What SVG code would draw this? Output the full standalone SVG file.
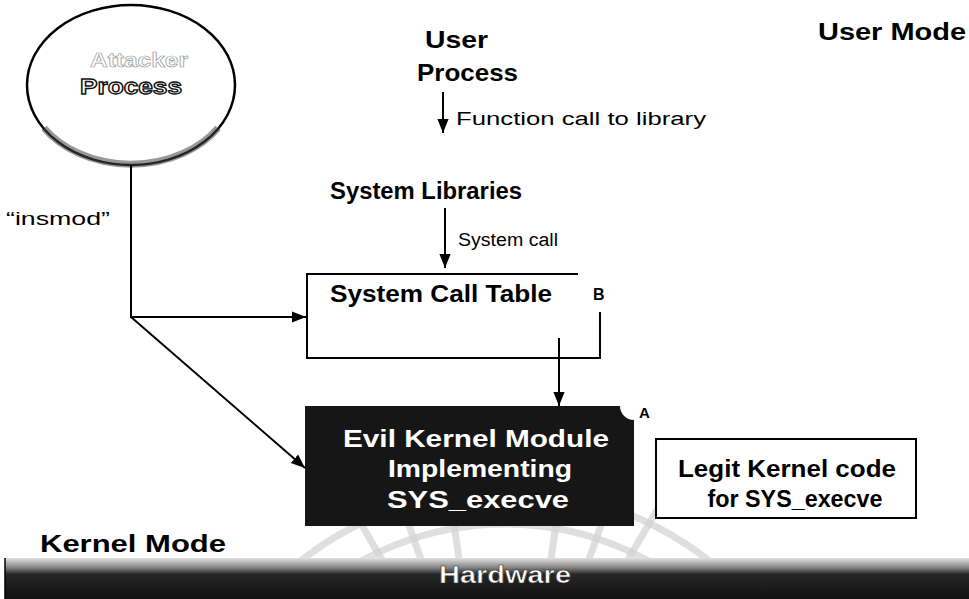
<svg xmlns="http://www.w3.org/2000/svg" width="969" height="599" viewBox="0 0 969 599">
<style>
.b{font-family:"Liberation Sans",Arial,sans-serif;font-weight:bold;fill:#000}
.r{font-family:"Liberation Sans",Arial,sans-serif;fill:#000}
.w{font-family:"Liberation Sans",Arial,sans-serif;font-weight:bold;fill:#fff}
.ln{stroke:#000;stroke-width:2;fill:none}
.wm{stroke:#d2d2d2;stroke-width:7;fill:none;opacity:0.7}
</style>
<defs>
<marker id="ah2" viewBox="0 0 10 10" refX="10" refY="5" markerWidth="14" markerHeight="14" orient="auto" markerUnits="userSpaceOnUse">
<path d="M0,1 L10,5 L0,9 z" fill="#000"/>
</marker>
<linearGradient id="hw" x1="0" y1="0" x2="0" y2="1">
<stop offset="0" stop-color="#e0e0e0"/>
<stop offset="0.22" stop-color="#8a8a8a"/>
<stop offset="0.40" stop-color="#262626"/>
<stop offset="1" stop-color="#111"/>
</linearGradient>
</defs>
<rect width="969" height="599" fill="#fff"/>

<g id="watermark">
<circle cx="505" cy="820" r="330" class="wm"/>
<circle cx="505" cy="820" r="296" class="wm"/>
<path d="M405,599 L350,505 M435,599 L400,500 M465,599 L450,498 M545,599 L560,498 M575,599 L610,500 M605,599 L660,505" class="wm" stroke-width="4"/>
</g>

<g id="attacker-process">
<ellipse cx="131" cy="85" rx="104" ry="80" fill="#fff" stroke="#000" stroke-width="2.5"/>
<path d="M218,128 A104,80 0 0,1 44,128" fill="none" stroke="#444" stroke-width="7" opacity="0.55"/>
<text class="b" x="90" y="67" font-size="21" textLength="98" lengthAdjust="spacingAndGlyphs" style="fill:#fff;stroke:#999;stroke-width:0.7">Attacker</text>
<text class="b" x="80" y="94" font-size="22" textLength="102" lengthAdjust="spacingAndGlyphs" style="fill:#fff;stroke:#111;stroke-width:1.3">Process</text>
</g>

<g id="user-process">
<text class="b" x="425" y="48" font-size="24" textLength="63" lengthAdjust="spacingAndGlyphs">User</text>
<text class="b" x="417" y="81" font-size="24" textLength="101" lengthAdjust="spacingAndGlyphs">Process</text>
</g>

<g id="user-mode">
<text class="b" x="818" y="40" font-size="23" textLength="148" lengthAdjust="spacingAndGlyphs">User Mode</text>
</g>

<g id="system-libraries">
<text class="b" x="330" y="199" font-size="23" textLength="192" lengthAdjust="spacingAndGlyphs">System Libraries</text>
</g>

<g id="system-call-table">
<path d="M578,274 H307 V358 H600 V312" class="ln"/>
<text class="b" x="330" y="302" font-size="23" textLength="222" lengthAdjust="spacingAndGlyphs">System Call Table</text>
<text class="b" x="593" y="300" font-size="16">B</text>
</g>

<g id="evil-kernel-module">
<path d="M305,406 H620 A14,14 0 0,0 634,420 V526 H305 Z" fill="#161616"/>
<text class="w" x="476" y="447" font-size="24" text-anchor="middle" textLength="266" lengthAdjust="spacingAndGlyphs">Evil Kernel Module</text>
<text class="w" x="480" y="477" font-size="24" text-anchor="middle" textLength="184" lengthAdjust="spacingAndGlyphs">Implementing</text>
<text class="w" x="478" y="508" font-size="24" text-anchor="middle" textLength="182" lengthAdjust="spacingAndGlyphs">SYS_execve</text>
<text class="b" x="639" y="418" font-size="15">A</text>
</g>

<g id="legit-kernel-code">
<rect x="656" y="439" width="260" height="79" fill="#fff" stroke="#000" stroke-width="2"/>
<text class="b" x="787" y="477" font-size="23" text-anchor="middle" textLength="218" lengthAdjust="spacingAndGlyphs">Legit Kernel code</text>
<text class="b" x="795" y="507" font-size="23" text-anchor="middle" textLength="175" lengthAdjust="spacingAndGlyphs">for SYS_execve</text>
</g>

<g id="kernel-mode">
<text class="b" x="40" y="552" font-size="23" textLength="186" lengthAdjust="spacingAndGlyphs">Kernel Mode</text>
</g>

<g id="hardware">
<rect x="5" y="558" width="964" height="41" fill="url(#hw)"/>
<line x1="5" y1="558" x2="5" y2="599" stroke="#000" stroke-width="1.5"/>
<text class="w" x="505" y="583" font-size="24" text-anchor="middle" textLength="132" lengthAdjust="spacingAndGlyphs" style="stroke:#333;stroke-width:0.6">Hardware</text>
</g>

<g id="connectors">
<line x1="443" y1="92" x2="443" y2="133" class="ln" marker-end="url(#ah2)"/>
<text class="r" x="456" y="125" font-size="18" textLength="250" lengthAdjust="spacingAndGlyphs">Function call to library</text>
<line x1="445" y1="208" x2="445" y2="268" class="ln" marker-end="url(#ah2)"/>
<text class="r" x="458" y="246" font-size="18" textLength="100" lengthAdjust="spacingAndGlyphs">System call</text>
<line x1="559" y1="338" x2="559" y2="406" class="ln" marker-end="url(#ah2)"/>
<path d="M131,165 V317 H306" class="ln" marker-end="url(#ah2)"/>
<line x1="131" y1="317" x2="305" y2="468" class="ln" marker-end="url(#ah2)"/>
<text class="r" x="6" y="225" font-size="18" textLength="104" lengthAdjust="spacingAndGlyphs">“insmod”</text>
</g>
</svg>
